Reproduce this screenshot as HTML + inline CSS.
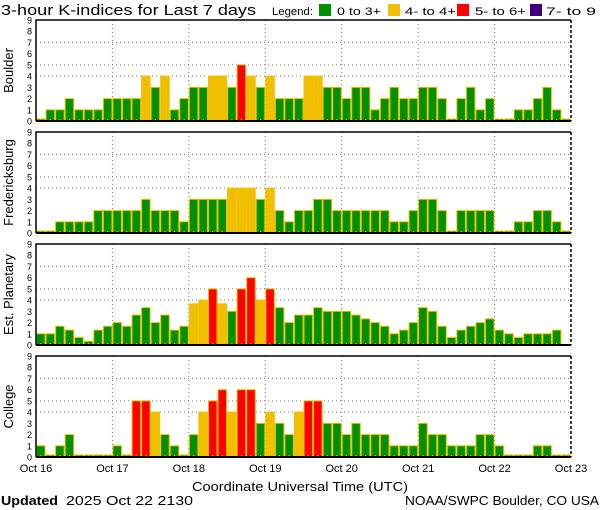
<!DOCTYPE html>
<html><head><meta charset="utf-8"><style>
html,body{margin:0;padding:0;background:#fff;}
svg{display:block;}
text{font-family:"Liberation Sans",sans-serif;fill:#000;}
</style></head><body>
<svg id="chart" width="600" height="510" viewBox="0 0 600 510" xmlns="http://www.w3.org/2000/svg">
<text x="1" y="15" font-size="15" textLength="255" lengthAdjust="spacingAndGlyphs">3-hour K-indices for Last 7 days</text>
<g>
<text x="272" y="15" font-size="11" textLength="41" lengthAdjust="spacingAndGlyphs">Legend:</text>
<rect x="319" y="4" width="12" height="12" fill="#009000"/>
<text x="337" y="15" font-size="11" textLength="44" lengthAdjust="spacingAndGlyphs">0 to 3+</text>
<rect x="388" y="4" width="12" height="12" fill="#f0c000"/>
<text x="405" y="15" font-size="11" textLength="51" lengthAdjust="spacingAndGlyphs">4- to 4+</text>
<rect x="457" y="4" width="12" height="12" fill="#ff0000"/>
<text x="475" y="15" font-size="11" textLength="51" lengthAdjust="spacingAndGlyphs">5- to 6+</text>
<rect x="530" y="4" width="12" height="12" fill="#400080"/>
<text x="546" y="15" font-size="11" textLength="50" lengthAdjust="spacingAndGlyphs">7- to 9</text>
</g>
<g id="panels"></g>
<g id="xlabels"></g>
<text x="300" y="491" font-size="13" text-anchor="middle" textLength="216" lengthAdjust="spacingAndGlyphs">Coordinate Universal Time (UTC)</text>
<text x="1" y="505" font-size="13" font-weight="bold" font-family="Liberation Serif, serif" textLength="57" lengthAdjust="spacingAndGlyphs">Updated</text>
<text x="66" y="505" font-size="13" textLength="127" lengthAdjust="spacingAndGlyphs">2025 Oct 22 2130</text>
<text x="599" y="505" font-size="13" text-anchor="end" textLength="194" lengthAdjust="spacingAndGlyphs">NOAA/SWPC Boulder, CO USA</text>
</svg>
<script>
const dayLabels = ["Oct 16","Oct 17","Oct 18","Oct 19","Oct 20","Oct 21","Oct 22","Oct 23"];
const stationNames = ["Boulder","Fredericksburg","Est. Planetary","College"];
const boulder = [0,1,1,2,1,1,1,2,2,2,2,4,3,4,1,2,3,3,4,4,3,5,4,3,4,2,2,2,4,4,3,3,2,3,3,1,2,3,2,2,3,3,2,0,2,3,1,2,0,0,1,1,2,3,1,0];
const fredericksburg = [0,0,1,1,1,1,2,2,2,2,2,3,2,2,2,1,3,3,3,3,4,4,4,3,4,2,1,2,2,3,3,2,2,2,2,2,2,1,1,2,3,3,2,0,2,2,2,2,0,0,1,1,2,2,1,0];
const planetary = [1,1,1.67,1.33,0.67,0.33,1.33,1.67,2,1.67,2.67,3.33,2,2.67,1.33,1.67,3.67,4,5,3.67,3,5,6,4,5,3.33,2,2.67,2.67,3.33,3,3,3,2.67,2.33,2,1.67,1,1.33,2,3.33,3,1.67,0.67,1.33,1.67,2,2.33,1.33,1,0.67,1,1,1,1.33,null];
const college = [1,0,1,2,0,0,0,0,1,0,5,5,4,2,1,0,2,4,5,6,4,6,6,3,4,3,2,4,5,5,3,3,2,3,2,2,2,1,1,1,3,2,2,1,1,1,2,2,1,0,0,0,1,1,0,0];
const yTicks = [0,1,2,3,4,5,6,7,8,9];
const gridLevels = [4,5,7];
const series = [boulder, fredericksburg, planetary, college];

const NS = "http://www.w3.org/2000/svg";
const X0 = 36, X1 = 571, N = 56;
const panelTops = [20,132,244,356], PH = 101;
const bw = (X1 - X0) / N;
const xDay = d => X0 + d * (X1 - X0) / 7;
const xBar = i => X0 + i * bw;
function yVal(top, v){ return top + PH - v * PH / 9; }
function color(v){ return v < 3.5 ? "#009000" : v < 4.5 ? "#f0c000" : v < 6.5 ? "#ff0000" : "#400080"; }
function mk(tag, attrs, parent){ const e = document.createElementNS(NS, tag); for (const k in attrs) e.setAttribute(k, attrs[k]); parent.appendChild(e); return e; }

const panels = document.getElementById("panels");
series.forEach((data, p) => {
  const top = panelTops[p], bot = top + PH;
  const g = mk("g", {}, panels);
  
  
  gridLevels.forEach(l => {
    const ln = mk("line", {x1:X0, x2:X1, y1:yVal(top,l), y2:yVal(top,l), stroke:"#777", "stroke-width":1, "stroke-dasharray":"1,3"}, g);
    
    
  });
  for (let d = 1; d < 7; d++) {
    const ln = mk("line", {x1:xDay(d), x2:xDay(d), y1:top, y2:bot, stroke:"#777", "stroke-width":1, "stroke-dasharray":"1,3"}, g);
    
    
  }
  data.forEach((v, i) => {
    if (v === null) return;
    const h = v === 0 ? 2 : v * PH / 9;
    const r = mk("rect", {x:xBar(i)+0.5, y:bot-h, width:bw-1, height:h, fill:color(v), stroke:"#f0c000", "stroke-width":1}, g);
    
    
    const t = mk("line", {x1:xBar(i)+bw/2, x2:xBar(i)+bw/2, y1:bot-2, y2:bot, stroke:"#f0c000", "stroke-width":1}, g);
    
    
  });
  const fr = mk("path", {d:`M${X0} ${bot} L${X0} ${top} L${X1} ${top}`, fill:"none", stroke:"#000", "stroke-width":1.5}, g);
  
  
  const rb = mk("line", {x1:X1, x2:X1, y1:top, y2:bot, stroke:"#000", "stroke-width":1.5, "stroke-dasharray":"3,2"}, g);
  
  
  const ax = mk("line", {x1:X0, x2:X1, y1:bot, y2:bot, stroke:"#000", "stroke-width":2}, g);
  
  
  yTicks.forEach(t => {
    const tx = mk("text", {x:32, y:yVal(top,t)+3.5, "font-size":9, "text-anchor":"end"}, g);
    tx.textContent = t;
    
    
  });
  const cy = top + PH/2;
  const nm = mk("text", {x:0, y:0, "font-size":13, "text-anchor":"middle", transform:`translate(13 ${cy}) rotate(-90)`}, g);
  nm.textContent = stationNames[p];
  
  
});
const xl = document.getElementById("xlabels");
dayLabels.forEach((lab, d) => {
  const t = mk("text", {x:xDay(d), y:472, "font-size":11, "text-anchor":"middle"}, xl);
  t.textContent = lab;
  
  
});
</script>
</body></html>
